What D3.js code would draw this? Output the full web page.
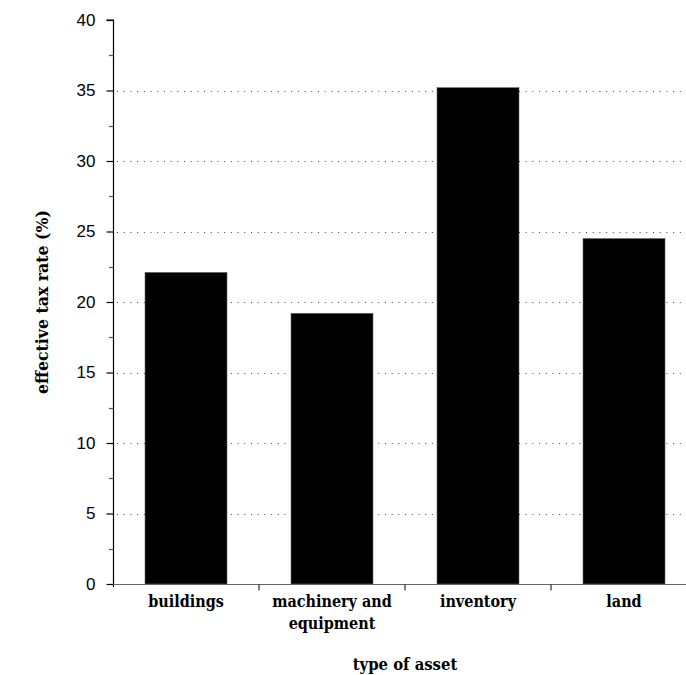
<!DOCTYPE html>
<html>
<head>
<meta charset="utf-8">
<script src="https://cdn.jsdelivr.net/npm/d3@7"></script>
<style>
html,body{margin:0;padding:0;background:#fff;}
svg{display:block;}
</style>
</head>
<body>
<svg id="chart" width="686" height="675"></svg>
<script>
const categories = ["buildings", "machinery and\nequipment", "inventory", "land"];
const values = [22.1, 19.2, 35.2, 24.5];
const majorTicks = [0, 5, 10, 15, 20, 25, 30, 35, 40];
const minorTicks = [2.5, 7.5, 12.5, 17.5, 22.5, 27.5, 32.5, 37.5];
const gridValues = [5, 10, 15, 20, 25, 30, 35];
const xTitle = "type of asset";
const yTitle = "effective tax rate (%)";

const svg = d3.select("#chart");
const mLeft = 113, mRight = 697, mTop = 20, mBottom = 584;

const x = d3.scaleBand().domain(categories).range([mLeft, mRight]).paddingInner(0).paddingOuter(0);
const y = d3.scaleLinear().domain([0, 40]).range([mBottom, mTop]);

const serif = "'DejaVu Serif Condensed', 'DejaVu Serif', serif";
const sans = "'Liberation Sans', Arial, sans-serif";

// gridlines
svg.append("g").selectAll("line").data(gridValues).join("line")
  .attr("x1", mLeft + 4).attr("x2", 686)
  .attr("y1", d => Math.round(y(d)) + 0.5).attr("y2", d => Math.round(y(d)) + 0.5)
  .attr("stroke", "#444").attr("stroke-width", 1)
  .attr("stroke-dasharray", "1,5.7");

// bars
const barW = 82;
svg.append("g").selectAll("rect").data(categories).join("rect")
  .attr("x", d => x(d) + x.bandwidth() / 2 - barW / 2)
  .attr("width", barW)
  .attr("y", (d, i) => y(values[i]))
  .attr("height", (d, i) => y(0) - y(values[i]))
  .attr("fill", "#000")
  .attr("stroke", "#666").attr("stroke-width", 0.6);

// y axis
const yAxis = svg.append("g").attr("transform", `translate(${mLeft + 0.5},0)`)
  .call(d3.axisLeft(y).tickValues(majorTicks).tickSize(7).tickPadding(11).tickFormat(d3.format("d")));
yAxis.select(".domain").attr("d", `M-7,${y(40)}H0V${mBottom + 3}`).attr("stroke", "#000").attr("stroke-width", 1.2);
yAxis.selectAll(".tick line").attr("stroke", "#000").attr("stroke-width", 1.2);
yAxis.selectAll(".tick text").attr("font-family", sans).attr("font-size", 17).attr("fill", "#000");

// minor ticks
svg.append("g").selectAll("line").data(minorTicks).join("line")
  .attr("x1", mLeft - 4).attr("x2", mLeft)
  .attr("y1", d => Math.round(y(d)) + 0.5).attr("y2", d => Math.round(y(d)) + 0.5)
  .attr("stroke", "#555").attr("stroke-width", 1.2);

// x axis
const xAxis = svg.append("g").attr("transform", `translate(0,${mBottom + 0.5})`);
xAxis.append("line").attr("x1", mLeft).attr("x2", mRight).attr("stroke", "#666").attr("stroke-width", 1.2);
const bounds = categories.slice(1).map(c => x(c));
xAxis.selectAll("line.sep").data(bounds).join("line").attr("class", "sep")
  .attr("x1", d => d).attr("x2", d => d).attr("y1", 0).attr("y2", 6)
  .attr("stroke", "#000").attr("stroke-width", 1);

// category labels
const labels = svg.append("g").selectAll("text").data(categories).join("text")
  .attr("x", d => x(d) + x.bandwidth() / 2)
  .attr("y", 607)
  .attr("text-anchor", "middle")
  .attr("font-family", serif).attr("font-stretch", "condensed").attr("font-weight", "bold").attr("font-size", 16).attr("fill", "#000");
labels.each(function(d) {
  const lines = d.split("\n");
  d3.select(this).selectAll("tspan").data(lines).join("tspan")
    .attr("x", x(d) + x.bandwidth() / 2)
    .attr("dy", (l, i) => i === 0 ? 0 : 22)
    .text(l => l);
});

// axis titles
svg.append("text").attr("x", (mLeft + mRight) / 2).attr("y", 670)
  .attr("text-anchor", "middle").attr("font-family", serif).attr("font-stretch", "condensed").attr("font-weight", "bold").attr("font-size", 16.5)
  .text(xTitle);
svg.append("text").attr("transform", `translate(48,${(mTop + mBottom) / 2}) rotate(-90)`)
  .attr("text-anchor", "middle").attr("font-family", serif).attr("font-stretch", "condensed").attr("font-weight", "bold").attr("font-size", 17.5)
  .text(yTitle);
</script>
</body>
</html>
